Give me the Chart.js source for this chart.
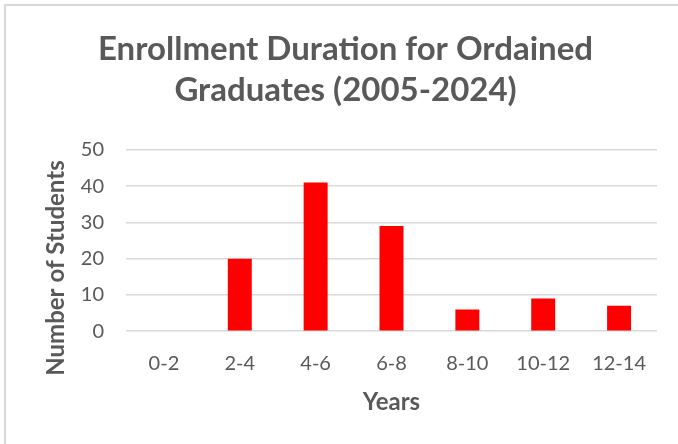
<!DOCTYPE html>
<html>
<head>
<meta charset="utf-8">
<script src="https://cdn.jsdelivr.net/npm/chart.js@4"></script>
<style>
  html, body { margin: 0; padding: 0; background: #fff; }
  #wrap { position: relative; width: 678px; height: 444px; overflow: hidden; }
  #frame {
    position: absolute; left: 4px; top: 4px; width: 700px; height: 460px;
    border-top: 2px solid #d9d9d9; border-left: 2px solid #d9d9d9;
  }
  canvas { position: absolute; left: 0; top: 0; }
</style>
</head>
<body>
<div id="wrap">
  <div id="frame"></div>
  <canvas id="chart" width="678" height="444"></canvas>
</div>
<script>
const categories = ["0-2", "2-4", "4-6", "6-8", "8-10", "10-12", "12-14"];
const students = [0, 20, 41, 29, 6, 9, 7];
const titleLines = ["Enrollment Duration for Ordained", "Graduates (2005-2024)"];
const yAxisTitle = "Number of Students";
const xAxisTitle = "Years";

const TEXT_COLOR = "#595959";
const GRID_COLOR = "#d9d9d9";
const FONT = "Lato, 'Open Sans', sans-serif";

// y axis title sits lower than the plot centre in the original, so draw it by hand
const yTitlePlugin = {
  id: "yTitle",
  afterDraw(chart) {
    const ctx = chart.ctx;
    ctx.save();
    ctx.translate(56, 268);
    ctx.rotate(-Math.PI / 2);
    ctx.font = `bold 24px ${FONT}`;
    ctx.fillStyle = TEXT_COLOR;
    ctx.textAlign = "center";
    ctx.textBaseline = "middle";
    ctx.fillText(yAxisTitle, 0, 0);
    ctx.restore();
  },
};

new Chart(document.getElementById("chart"), {
  type: "bar",
  data: {
    labels: categories,
    datasets: [{
      data: students,
      backgroundColor: "#ff0000",
      borderWidth: 0,
      barPercentage: 0.316,
      categoryPercentage: 1,
    }],
  },
  options: {
    responsive: false,
    animation: false,
    // left padding shifts the title centre to match the original
    layout: { padding: { left: 34, right: 21, top: 0, bottom: 27 } },
    plugins: {
      legend: { display: false },
      tooltip: { enabled: false },
      title: {
        display: true,
        text: titleLines,
        color: TEXT_COLOR,
        font: { family: FONT, size: 33, weight: "bold", lineHeight: 1.24 },
        padding: { top: 29, bottom: 39 },
      },
    },
    scales: {
      x: {
        grid: { display: false, drawTicks: false },
        border: { display: false },
        ticks: { color: TEXT_COLOR, font: { family: FONT, size: 20 }, padding: 20, maxRotation: 0 },
        title: {
          display: true,
          text: xAxisTitle,
          color: TEXT_COLOR,
          font: { family: FONT, size: 24, weight: "bold" },
          padding: { top: -7, bottom: 0 },
        },
      },
      y: {
        min: 0,
        max: 50,
        afterFit(scale) { scale.width = 92; },
        grid: { color: GRID_COLOR, lineWidth: 1.5, drawTicks: false },
        border: { display: false },
        ticks: { stepSize: 10, color: TEXT_COLOR, font: { family: FONT, size: 20 }, padding: 22 },
      },
    },
  },
  plugins: [yTitlePlugin],
});
</script>
</body>
</html>
